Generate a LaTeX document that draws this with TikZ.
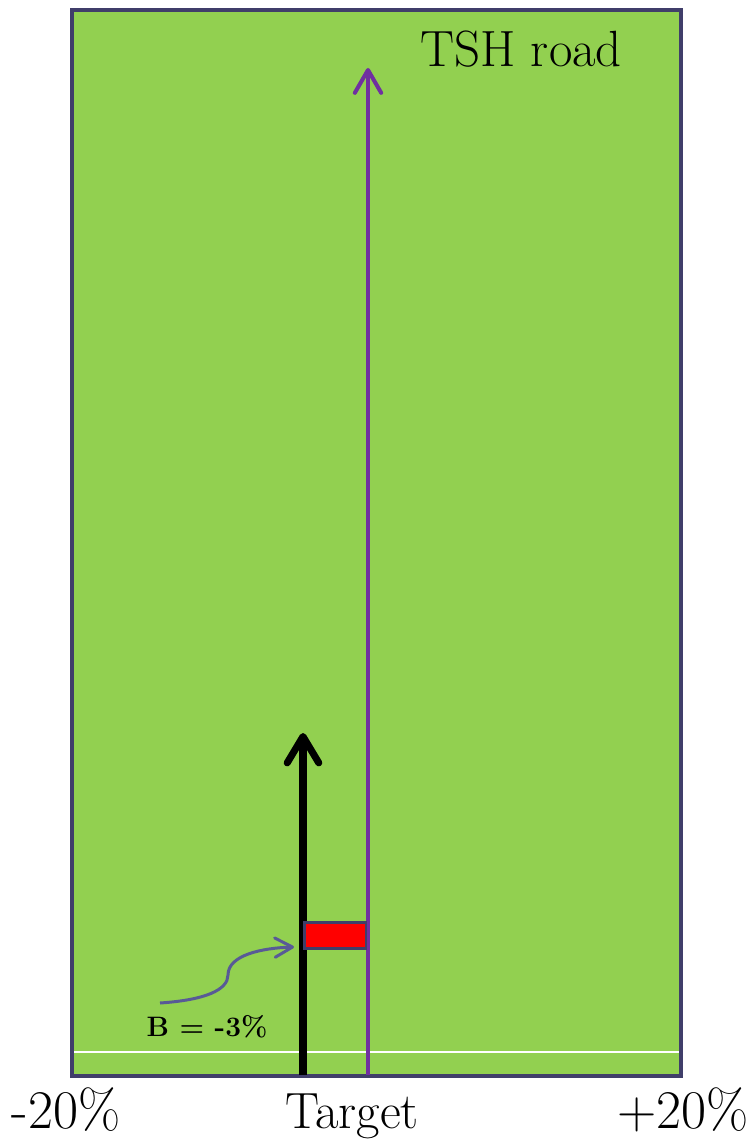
\documentclass[tikz,border=0pt]{standalone}
\usepackage{tikz}
\usetikzlibrary{arrows.meta,positioning}

\definecolor{fieldgreen}{HTML}{92D050}
\definecolor{frameslate}{HTML}{403E6A}
\definecolor{roadpurple}{HTML}{7030A0}
\definecolor{pointerblue}{HTML}{585A96}

\begin{document}
\begin{tikzpicture}[x=0.02cm, y=-0.02cm,
  lbl/.style={font=\fontsize{29}{33}\selectfont, inner sep=0pt, anchor=base},
  pct/.style={font=\fontsize{31}{35}\selectfont, inner sep=0pt, anchor=base},
  road/.style={draw=roadpurple, line width=2.3pt,
    -{Straight Barb[length=13pt, width=15pt, round]}},
  patient/.style={draw=black, line width=4pt,
    -{Straight Barb[length=15pt, width=18pt, round]}}]
  \useasboundingbox (0,0) rectangle (748,1141);

  % field
  \draw[fill=fieldgreen, draw=frameslate, line width=1.8pt] (72,10) rectangle (681,1076);
  \coordinate (wl) at (74,1052);
  \coordinate (wr) at (679,1052);
  \draw[white, line width=0.7pt] (wl) -- (wr);

  % arrows
  \coordinate (r0) at (368,1075);
  \coordinate (r1) at (368,68);
  \draw[road] (r0) -- (r1);
  \coordinate (p0) at (303,1075);
  \coordinate (p1) at (303,733);
  \draw[patient] (p0) -- (p1);

  % bias box
  \node[draw=frameslate, fill=red, line width=1.7pt, inner sep=0pt,
    minimum width=1.24cm, minimum height=0.52cm] (bias) at (335,935.5) {};

  % labels
  \node[lbl] (road) at (521,67) {TSH road};
  \node[lbl] (target) at (352,1128) {Target};
  \node[pct] (lo) at (66,1128) {-20\%};
  \node[pct] (hi) at (683,1128) {+20\%};
  \node[font=\fontsize{16}{19}\selectfont\bfseries, inner sep=0pt] (blabel) at (207,1027) {B = -3\%};

  \coordinate (c0) at (160,1003);
  \coordinate (c1) at (294,947);
  \draw[pointerblue, line width=1.7pt, -{Straight Barb[length=10pt, width=11pt, round]}]
    (c0) .. controls (205,1000) and (228,990) .. (228,975)
         .. controls (228,955) and (262,948) .. (c1);
\end{tikzpicture}
\end{document}
